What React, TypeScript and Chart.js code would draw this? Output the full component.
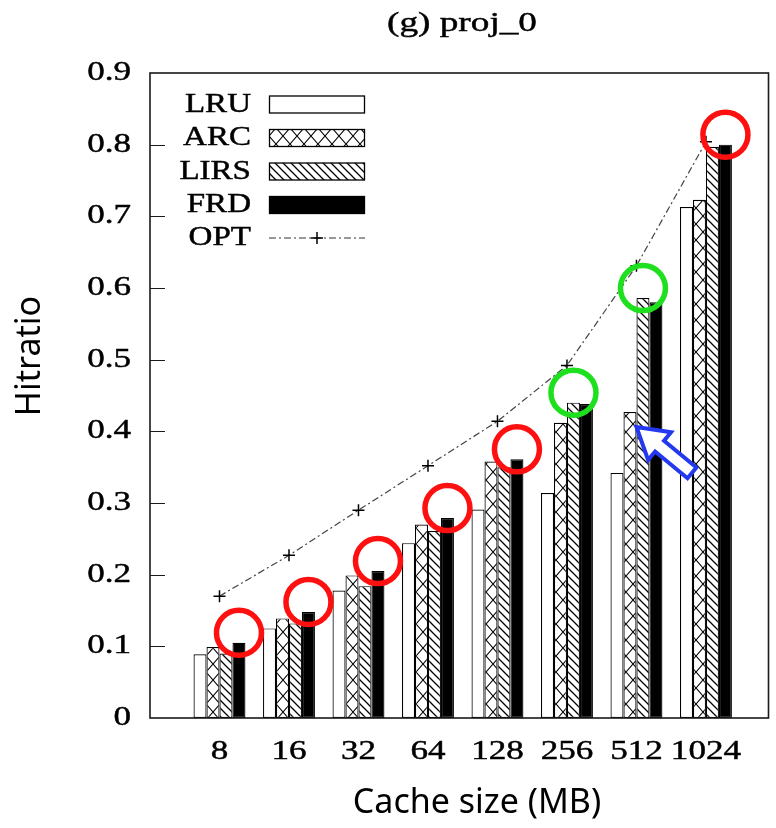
import React, { useEffect, useRef } from 'react';
import { Chart, registerables } from 'chart.js';

Chart.register(...registerables);

const titleText = '(g) proj_0';
const xAxisTitle = 'Cache size (MB)';
const yAxisTitle = 'Hitratio';
const categories = ['8', '16', '32', '64', '128', '256', '512', '1024'];
const seriesNames = ['LRU', 'ARC', 'LIRS', 'FRD', 'OPT'];
const lruValues = [0.089, 0.125, 0.178, 0.244, 0.291, 0.314, 0.342, 0.713];
const arcValues = [0.099, 0.139, 0.199, 0.27, 0.358, 0.412, 0.427, 0.723];
const lirsValues = [0.09, 0.132, 0.184, 0.261, 0.35, 0.44, 0.586, 0.797];
const frdValues = [0.105, 0.148, 0.205, 0.279, 0.361, 0.438, 0.58, 0.8];
const optValues = [0.17, 0.227, 0.29, 0.352, 0.414, 0.492, 0.631, 0.804];
const yTickValues = [0, 0.1, 0.2, 0.3, 0.4, 0.5, 0.6, 0.7, 0.8, 0.9];
const yTickLabels = ['0', '0.1', '0.2', '0.3', '0.4', '0.5', '0.6', '0.7', '0.8', '0.9'];
const redCircleGroups = [0, 1, 2, 3, 4, 7]; // on FRD bars
const greenCircleGroups = [5, 6]; // on LIRS bars
const arrowGroup = 6; // points at ARC bar

const SERIF = '"Liberation Serif", "Times New Roman", serif';
const SANS = '"Noto Sans", "Open Sans", sans-serif';
const STRETCH = 1.3;

function makeCrossPattern(): CanvasPattern | string {
  const c = document.createElement('canvas');
  c.width = 14;
  c.height = 16;
  const g = c.getContext('2d');
  if (!g) return '#fff';
  g.fillStyle = '#fff';
  g.fillRect(0, 0, 14, 16);
  g.strokeStyle = '#000';
  g.lineWidth = 1.1;
  g.beginPath();
  g.moveTo(0, 0);
  g.lineTo(14, 16);
  g.moveTo(14, 0);
  g.lineTo(0, 16);
  g.stroke();
  const p = g.createPattern(c, 'repeat');
  if (!p) return '#fff';
  try {
    p.setTransform(new DOMMatrix().translate(206, 0));
  } catch (e) {}
  return p;
}

function makeDiagPattern(): CanvasPattern | string {
  const s = 8;
  const c = document.createElement('canvas');
  c.width = s;
  c.height = s;
  const g = c.getContext('2d');
  if (!g) return '#fff';
  g.fillStyle = '#fff';
  g.fillRect(0, 0, s, s);
  g.strokeStyle = '#000';
  g.lineWidth = 1.3;
  g.beginPath();
  g.moveTo(-1, -1);
  g.lineTo(s + 1, s + 1);
  g.moveTo(-1, s - 1);
  g.lineTo(1, s + 1);
  g.moveTo(s - 1, -1);
  g.lineTo(s + 1, 1);
  g.stroke();
  return g.createPattern(c, 'repeat') || '#fff';
}

function drawText(
  ctx: CanvasRenderingContext2D,
  text: string,
  x: number,
  y: number,
  align: CanvasTextAlign,
  font: string,
  sx: number
) {
  ctx.save();
  ctx.translate(x, y);
  ctx.scale(sx, 1);
  ctx.font = font;
  ctx.fillStyle = '#000';
  ctx.strokeStyle = '#000';
  ctx.lineWidth = 0.45;
  ctx.textAlign = align;
  ctx.textBaseline = 'middle';
  ctx.fillText(text, 0, 0);
  ctx.strokeText(text, 0, 0);
  ctx.restore();
}

export default function App() {
  const canvasRef = useRef<HTMLCanvasElement | null>(null);

  useEffect(() => {
    const canvas = canvasRef.current;
    if (!canvas) return;
    const crossPat = makeCrossPattern();
    const diagPat = makeDiagPattern();

    const toPts = (arr: number[]) => arr.map((v, i) => ({ x: i, y: v }));

    const overlay = {
      id: 'overlay',
      afterDatasetsDraw(chart: any) {
        const ctx: CanvasRenderingContext2D = chart.ctx;
        const area = chart.chartArea;
        const ys = chart.scales.y;
        const xs = chart.scales.x;
        ctx.save();
        // frame
        ctx.strokeStyle = '#1a1a1a';
        ctx.lineWidth = 1.6;
        ctx.strokeRect(area.left, area.top, area.right - area.left, area.bottom - area.top);
        // inward y ticks
        ctx.lineWidth = 1.2;
        ctx.beginPath();
        yTickValues.forEach((v, i) => {
          if (i === 0 || i === yTickValues.length - 1) return;
          const py = Math.round(ys.getPixelForValue(v)) + 0.5;
          ctx.moveTo(area.left, py);
          ctx.lineTo(area.left + 15, py);
        });
        ctx.stroke();

        // circles
        const circle = (el: any, color: string) => {
          ctx.beginPath();
          ctx.arc(el.x, el.y - 10, 22.5, 0, Math.PI * 2);
          ctx.strokeStyle = color;
          ctx.lineWidth = 5.5;
          ctx.stroke();
        };
        const frdMeta = chart.getDatasetMeta(3);
        const lirsMeta = chart.getDatasetMeta(2);
        redCircleGroups.forEach((i) => circle(frdMeta.data[i], '#ff1010'));
        greenCircleGroups.forEach((i) => circle(lirsMeta.data[i], '#1ee01e'));

        // arrow
        const arcEl: any = chart.getDatasetMeta(1).data[arrowGroup];
        const tipX = arcEl.x + arcEl.width / 2;
        const tipY = arcEl.y + 15;
        const ang = Math.atan2(43, 52);
        const headLen = 30, headHalf = 18, shaftHalf = 7, len = 72;
        const pts = [
          [0, 0],
          [headLen, headHalf],
          [headLen, shaftHalf],
          [len, shaftHalf],
          [len, -shaftHalf],
          [headLen, -shaftHalf],
          [headLen, -headHalf],
        ];
        ctx.beginPath();
        pts.forEach(([u, v], k) => {
          const px = tipX + u * Math.cos(ang) - v * Math.sin(ang);
          const py = tipY + u * Math.sin(ang) + v * Math.cos(ang);
          if (k === 0) ctx.moveTo(px, py);
          else ctx.lineTo(px, py);
        });
        ctx.closePath();
        ctx.fillStyle = '#fff';
        ctx.fill();
        ctx.strokeStyle = '#2438f0';
        ctx.lineWidth = 4;
        ctx.lineJoin = 'miter';
        ctx.stroke();
        ctx.restore();

        // texts
        const serifFont = `27px ${SERIF}`;
        yTickValues.forEach((v, i) => {
          drawText(ctx, yTickLabels[i], 131, ys.getPixelForValue(v), 'right', serifFont, STRETCH);
        });
        categories.forEach((c, i) => {
          drawText(ctx, c, xs.getPixelForValue(i), 752, 'center', serifFont, STRETCH);
        });
        drawText(ctx, titleText, 462, 24, 'center', `28px ${SERIF}`, 1.33);

        // legend
        const legendFont = `28px ${SERIF}`;
        const rowY = [104.5, 138, 171.5, 205, 238];
        const fills: any[] = ['#fff', crossPat, diagPat, '#000'];
        seriesNames.forEach((name, i) => {
          drawText(ctx, name, 251, rowY[i], 'right', legendFont, 1.18);
          ctx.save();
          if (i < 4) {
            ctx.fillStyle = fills[i];
            ctx.fillRect(269, rowY[i] - 8.5, 96, 17);
            ctx.strokeStyle = '#000';
            ctx.lineWidth = 1.3;
            ctx.strokeRect(269.5, rowY[i] - 8.5, 95, 17);
          } else {
            ctx.strokeStyle = '#333';
            ctx.lineWidth = 1.2;
            ctx.setLineDash([7, 3, 2, 3]);
            ctx.beginPath();
            ctx.moveTo(269, rowY[i]);
            ctx.lineTo(365, rowY[i]);
            ctx.stroke();
            ctx.setLineDash([]);
            ctx.strokeStyle = '#000';
            ctx.lineWidth = 1.5;
            ctx.beginPath();
            ctx.moveTo(311, rowY[i]);
            ctx.lineTo(323, rowY[i]);
            ctx.moveTo(317, rowY[i] - 6);
            ctx.lineTo(317, rowY[i] + 6);
            ctx.stroke();
          }
          ctx.restore();
        });

        // axis titles
        ctx.save();
        ctx.font = `34px ${SANS}`;
        ctx.fillStyle = '#000';
        ctx.textAlign = 'center';
        ctx.textBaseline = 'middle';
        ctx.fillText(xAxisTitle, 477, 803);
        ctx.translate(30, 356);
        ctx.rotate(-Math.PI / 2);
        ctx.fillText(yAxisTitle, 0, 0);
        ctx.restore();
      },
    };

    const barBase = {
      type: 'bar' as const,
      borderColor: '#000',
      borderWidth: 1.2,
      borderSkipped: false as any,
      categoryPercentage: 0.83,
      barPercentage: 1.0,
      order: 1,
    };

    const chart = new Chart(canvas, {
      type: 'bar',
      data: {
        datasets: [
          { ...barBase, label: seriesNames[0], data: toPts(lruValues), backgroundColor: '#fff' },
          { ...barBase, label: seriesNames[1], data: toPts(arcValues), backgroundColor: crossPat as any },
          { ...barBase, label: seriesNames[2], data: toPts(lirsValues), backgroundColor: diagPat as any },
          { ...barBase, label: seriesNames[3], data: toPts(frdValues), backgroundColor: '#000' },
          {
            type: 'line' as const,
            label: seriesNames[4],
            data: toPts(optValues),
            borderColor: '#444',
            borderWidth: 1.2,
            borderDash: [7, 3, 2, 3],
            pointStyle: 'cross',
            pointRadius: 6,
            pointBorderColor: '#000',
            pointBorderWidth: 1.5,
            pointBackgroundColor: '#000',
            fill: false,
            tension: 0,
            order: 0,
          } as any,
        ],
      },
      options: {
        responsive: false,
        animation: false,
        layout: { padding: { left: 150, top: 73, right: 3, bottom: 110 } },
        plugins: {
          legend: { display: false },
          title: { display: false },
          tooltip: { enabled: false },
        },
        scales: {
          x: {
            type: 'linear',
            min: -1,
            max: 7.9,
            offset: false,
            display: false,
          },
          y: {
            type: 'linear',
            min: 0,
            max: 0.9,
            display: false,
          },
        },
      },
      plugins: [overlay],
    });

    return () => chart.destroy();
  }, []);

  return (
    <div style={{ position: 'absolute', left: 0, top: 0, width: 776, height: 828, background: '#fff' }}>
      <canvas ref={canvasRef} width={776} height={828} style={{ display: 'block' }} />
    </div>
  );
}
